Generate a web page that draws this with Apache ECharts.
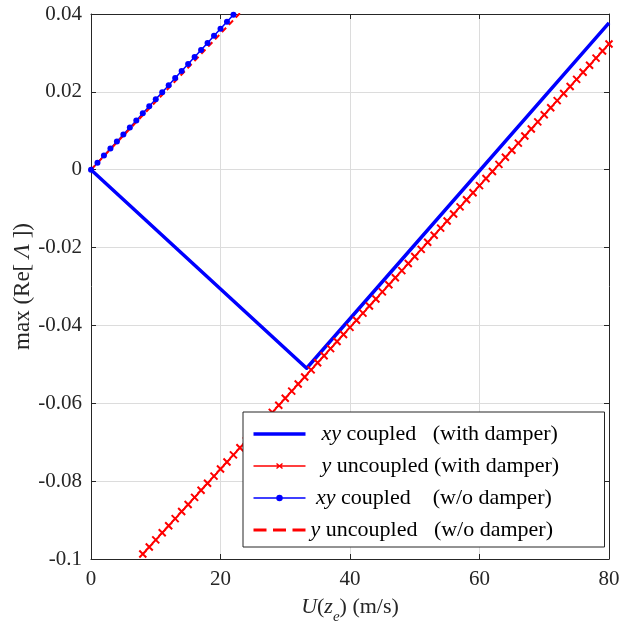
<!DOCTYPE html>
<html>
<head>
<meta charset="utf-8">
<script src="https://cdn.jsdelivr.net/npm/echarts@6/dist/echarts.min.js"></script>
<style>
  html, body { margin: 0; padding: 0; background: #fff; }
  #chart { width: 622px; height: 626px; }
</style>
</head>
<body>
<div id="chart"></div>
<script>
// axis ticks
var xTicks = [0, 20, 40, 60, 80];
var yTicks = [-0.1, -0.08, -0.06, -0.04, -0.02, 0, 0.02, 0.04];

// xy coupled (with damper) - thick blue
var coupledDamperU = [0, 33.3, 80];
var coupledDamperV = [0, -0.0510, 0.0377];

// y uncoupled (with damper) - red with x markers
var uncoupledDamperU = [8, 9, 10, 11, 12, 13, 14, 15, 16, 17, 18, 19, 20, 21, 22, 23, 24, 25, 26, 27,
  28, 29, 30, 31, 32, 33, 34, 35, 36, 37, 38, 39, 40, 41, 42, 43, 44, 45, 46, 47,
  48, 49, 50, 51, 52, 53, 54, 55, 56, 57, 58, 59, 60, 61, 62, 63, 64, 65, 66, 67,
  68, 69, 70, 71, 72, 73, 74, 75, 76, 77, 78, 79, 80];
var uncoupledDamperV = [-0.09873, -0.09691, -0.09509, -0.09327, -0.09145, -0.08963, -0.08781, -0.08599,
  -0.08417, -0.08235, -0.08053, -0.07871, -0.07689, -0.07507, -0.07325, -0.07143, -0.06961, -0.06779,
  -0.06597, -0.06415, -0.06233, -0.06051, -0.05869, -0.05687, -0.05505, -0.05323, -0.05141, -0.04959,
  -0.04777, -0.04595, -0.04413, -0.04231, -0.04049, -0.03867, -0.03685, -0.03503, -0.03321, -0.03139,
  -0.02957, -0.02775, -0.02593, -0.02411, -0.02229, -0.02047, -0.01865, -0.01683, -0.01501, -0.01319,
  -0.01137, -0.00955, -0.00773, -0.00591, -0.00409, -0.00227, -0.00045, 0.00137, 0.00319, 0.00501,
  0.00683, 0.00865, 0.01047, 0.01229, 0.01411, 0.01593, 0.01775, 0.01957, 0.02139, 0.02321,
  0.02503, 0.02685, 0.02867, 0.03049, 0.03231];

// xy coupled (w/o damper) - blue with dots
var coupledNoDamperU = [0, 1, 2, 3, 4, 5, 6, 7, 8, 9, 10, 11, 12, 13, 14, 15, 16, 17, 18, 19, 20, 21, 22, 23];
var coupledNoDamperV = [0, 0.00181, 0.00362, 0.00543, 0.00724, 0.00905, 0.01086, 0.01267, 0.01448,
  0.01629, 0.0181, 0.01991, 0.02172, 0.02353, 0.02534, 0.02715, 0.02896, 0.03077, 0.03258,
  0.03439, 0.0362, 0.03801, 0.03982, 0.04163];

// y uncoupled (w/o damper) - red dashed
var uncoupledNoDamperU = [0, 25];
var uncoupledNoDamperV = [0, 0.0437];

var seriesNames = ['xy coupled (with damper)', 'y uncoupled (with damper)', 'xy coupled (w/o damper)', 'y uncoupled (w/o damper)'];
var legendLabels = {
    'xy coupled (with damper)': '  {i|xy} coupled   (with damper)',
    'y uncoupled (with damper)': '  {i|y} uncoupled (with damper)',
    'xy coupled (w/o damper)': ' {i|xy} coupled    (w/o damper)',
    'y uncoupled (w/o damper)': '{i|y} uncoupled   (w/o damper)'
};

function pairs(u, v) {
    var out = [];
    for (var i = 0; i < u.length; i++) out.push([u[i], v[i]]);
    return out;
}

var font = 'Liberation Serif';
var ink = '#262626';
var blue = '#0000ff';
var red = '#ff0000';

var dom = document.getElementById('chart');
var myChart = echarts.init(dom);
var option = {
    animation: false,
    backgroundColor: '#fff',
    grid: { left: 91, right: 13, top: 14, bottom: 67, containLabel: false, outerBoundsMode: 'none' },
    legend: {
        data: [
            { name: seriesNames[0], icon: 'path://M0,0H52V3.5H0Z', itemStyle: { color: blue, borderWidth: 0 } },
            { name: seriesNames[1], icon: 'path://M0,4H52M23,1.5L29,6.5M29,1.5L23,6.5', itemStyle: { color: 'none', borderColor: red, borderWidth: 1.5 } },
            { name: seriesNames[2], icon: 'path://M0,4H52M26,1.5A2.5,2.5 0 1,1 26,6.5A2.5,2.5 0 1,1 26,1.5Z', itemStyle: { color: blue, borderColor: blue, borderWidth: 1.5 } },
            { name: seriesNames[3], icon: 'path://M0,0H13V3H0ZM19.5,0H32.5V3H19.5ZM39,0H52V3H39Z', itemStyle: { color: red, borderWidth: 0 } }
        ],
        orient: 'vertical',
        left: 243,
        top: 412,
        itemWidth: 52,
        itemHeight: 8,
        itemGap: 10,
        padding: [11, 11, 6, 8],
        backgroundColor: '#fff',
        borderColor: ink,
        borderWidth: 1,
        selectedMode: false,
        formatter: function (name) { return legendLabels[name]; },
        textStyle: {
            fontFamily: font, fontSize: 22, color: '#000', width: 283, lineHeight: 20,
            rich: { i: { fontFamily: font, fontSize: 22, fontStyle: 'italic', color: '#000', lineHeight: 20 } }
        }
    },
    xAxis: [{
        type: 'value', min: 0, max: 80, interval: 20,
        name: '{i|U}({i|z}{sub|e}) (m/s)',
        nameLocation: 'middle', nameGap: 31,
        nameTextStyle: {
            fontFamily: font, fontSize: 22, color: ink,
            rich: {
                i: { fontFamily: font, fontSize: 22, fontStyle: 'italic', color: ink },
                sub: { fontFamily: font, fontSize: 15, fontStyle: 'italic', color: ink, padding: [20, 0, 0, 0] }
            }
        },
        axisLine: { show: true, onZero: false, lineStyle: { color: ink, width: 1 } },
        axisTick: { show: true, inside: true, length: 5, lineStyle: { color: ink } },
        axisLabel: { fontFamily: font, fontSize: 21, color: ink, margin: 10 },
        splitLine: { show: true, lineStyle: { color: '#dcdcdc', width: 1 } }
    }, {
        type: 'value', min: 0, max: 80, interval: 20, position: 'top',
        axisLine: { show: true, onZero: false, lineStyle: { color: ink, width: 1 } },
        axisTick: { show: true, inside: true, length: 5, lineStyle: { color: ink } },
        axisLabel: { show: false },
        splitLine: { show: false }
    }],
    yAxis: [{
        type: 'value', min: -0.1, max: 0.04, interval: 0.02,
        name: 'max (Re[ {i|Λ} ])',
        nameLocation: 'middle', nameGap: 57, nameMoveOverlap: false,
        nameTextStyle: {
            fontFamily: font, fontSize: 23, color: ink,
            rich: { i: { fontFamily: font, fontSize: 23, fontStyle: 'italic', color: ink } }
        },
        axisLine: { show: true, onZero: false, lineStyle: { color: ink, width: 1 } },
        axisTick: { show: true, inside: true, length: 5, lineStyle: { color: ink } },
        axisLabel: { fontFamily: font, fontSize: 21, color: ink, margin: 9 },
        splitLine: { show: true, lineStyle: { color: '#dcdcdc', width: 1 } }
    }, {
        type: 'value', min: -0.1, max: 0.04, interval: 0.02, position: 'right',
        axisLine: { show: true, onZero: false, lineStyle: { color: ink, width: 1 } },
        axisTick: { show: true, inside: true, length: 5, lineStyle: { color: ink } },
        axisLabel: { show: false },
        splitLine: { show: false }
    }],
    series: [{
        name: seriesNames[0],
        type: 'line',
        data: pairs(coupledDamperU, coupledDamperV),
        symbol: 'none',
        lineStyle: { color: blue, width: 3.5, join: 'round' },
        itemStyle: { color: blue },
        silent: true
    }, {
        name: seriesNames[1],
        type: 'line',
        data: pairs(uncoupledDamperU, uncoupledDamperV),
        symbol: 'path://M0,0L10,10M10,0L0,10',
        symbolSize: 7,
        showAllSymbol: true,
        lineStyle: { color: red, width: 1.5 },
        itemStyle: { color: red, borderColor: red, borderWidth: 2 },
        silent: true
    }, {
        name: seriesNames[2],
        type: 'line',
        data: pairs(coupledNoDamperU, coupledNoDamperV),
        symbol: 'circle',
        symbolSize: 6,
        showAllSymbol: true,
        lineStyle: { color: blue, width: 1.5 },
        itemStyle: { color: blue },
        silent: true
    }, {
        name: seriesNames[3],
        type: 'line',
        data: pairs(uncoupledNoDamperU, uncoupledNoDamperV),
        symbol: 'none',
        lineStyle: { color: red, width: 2, type: [6, 4] },
        itemStyle: { color: red },
        silent: true
    }]
};
if (option && typeof option === "object") {
    myChart.setOption(option, true);
}
</script>
</body>
</html>
